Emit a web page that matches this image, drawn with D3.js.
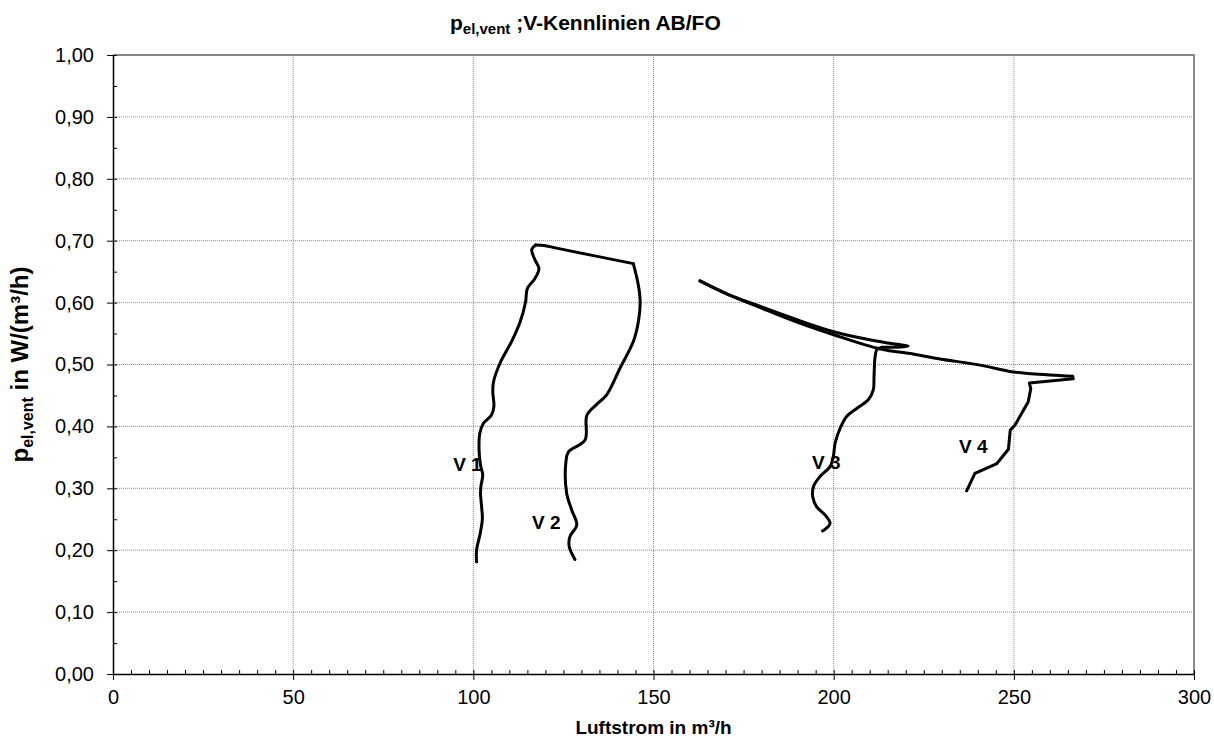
<!DOCTYPE html>
<html>
<head>
<meta charset="utf-8">
<script src="https://cdn.jsdelivr.net/npm/d3@7"></script>
<style>
  body { margin: 0; background: #fff; }
  text { font-family: "Liberation Sans", Arial, sans-serif; }
</style>
</head>
<body>
<script>
// Kennlinien: [Luftstrom m³/h, p_el,vent W/(m³/h)]
var v1 = [[100.9,0.181],[100.9,0.200],[101.9,0.227],[102.5,0.250],[102.3,0.270],[102.0,0.290],
          [102.1,0.303],[102.6,0.322],[102.0,0.337],[101.6,0.360],[101.8,0.389],[102.8,0.405],
          [105.0,0.418],[105.7,0.432],[105.4,0.456],[105.6,0.472],[107.4,0.502],[110.6,0.537],
          [113.0,0.569],[114.5,0.601],[115.0,0.623],[117.1,0.639],[118.2,0.655],[117.1,0.669],
          [116.2,0.686],[117.3,0.693]];
var top12 = [[117.3,0.693],[120.0,0.692],[123.1,0.688],[144.4,0.663]];
var v2 = [[144.4,0.663],[145.8,0.628],[146.3,0.601],[145.8,0.569],[144.4,0.537],[140.7,0.494],
          [137.0,0.451],[134.3,0.436],[131.5,0.418],[131.0,0.378],[126.4,0.359],[125.7,0.343],
          [125.9,0.292],[127.3,0.265],[128.7,0.241],[126.8,0.222],[126.6,0.206],[128.2,0.185]];
var top3 = [[162.9,0.635],[170,0.615],[180,0.593],[190,0.572],[200,0.553],[210,0.540],
            [217,0.533],[220.7,0.530],[218,0.528],[213.5,0.528]];
var v3 = [[213.5,0.528],[212.0,0.524],[211.5,0.513],[211.2,0.480],[211.0,0.459],[209.6,0.443],
          [206.4,0.429],[203.6,0.416],[201.8,0.397],[200.4,0.373],[199.9,0.351],[199.0,0.335],
          [196.2,0.319],[194.4,0.303],[194.2,0.286],[195.3,0.270],[197.6,0.257],[199.0,0.244],
          [198.6,0.239],[196.9,0.231]];
var top4 = [[162.9,0.635],[170,0.615],[180,0.591],[190,0.568],[200,0.548],[213,0.525],
            [222,0.517],[229.5,0.509],[240.6,0.499],[249.9,0.488],[260,0.483],[266.3,0.481]];
var v4 = [[266.3,0.481],[266.5,0.477],[254.3,0.470],[254.7,0.461],[254.0,0.440],[250.3,0.402],
          [249.0,0.394],[248.5,0.363],[245.3,0.340],[239.2,0.324],[236.9,0.296]];

var labels = ["V 1", "V 2", "V 3", "V 4"];
var labelPos = [[94.4,0.328],[116.3,0.234],[194.0,0.331],[234.8,0.357]];

var xTicks = [0, 50, 100, 150, 200, 250, 300];
var yTicks = [0, 0.1, 0.2, 0.3, 0.4, 0.5, 0.6, 0.7, 0.8, 0.9, 1.0];

var W = 1214, H = 746;
var mLeft = 113, mRight = 1194, mTop = 55, mBottom = 674;

var svg = d3.select("body").append("svg")
    .attr("width", W)
    .attr("height", H);

var x = d3.scaleLinear().domain([0, 300]).range([mLeft, mRight]);
var y = d3.scaleLinear().domain([0, 1]).range([mBottom, mTop]);

var de = d3.formatLocale({decimal: ",", thousands: ".", grouping: [3], currency: ["", " €"]});
var fmt = de.format(".2f");

// grid
svg.append("g")
   .selectAll("line")
   .data(yTicks.slice(1, -1))
   .enter().append("line")
   .attr("x1", mLeft).attr("x2", mRight)
   .attr("y1", function(d) { return y(d); })
   .attr("y2", function(d) { return y(d); })
   .attr("stroke", "#8c8c8c")
   .attr("stroke-width", 1)
   .attr("stroke-dasharray", "1,1");

svg.append("g")
   .selectAll("line")
   .data(xTicks.slice(1, -1))
   .enter().append("line")
   .attr("y1", mTop).attr("y2", mBottom)
   .attr("x1", function(d) { return x(d); })
   .attr("x2", function(d) { return x(d); })
   .attr("stroke", "#8c8c8c")
   .attr("stroke-width", 1)
   .attr("stroke-dasharray", "1,1");

// top and right border
svg.append("path")
   .attr("d", "M" + mLeft + "," + y(1) + "H" + x(300) + "V" + mBottom)
   .attr("fill", "none")
   .attr("stroke", "#888")
   .attr("stroke-width", 2);

// minor ticks (inside)
svg.append("g")
   .attr("transform", "translate(0," + mBottom + ")")
   .call(d3.axisBottom(x).tickValues(d3.range(0, 301, 5)).tickSize(-4).tickFormat(""))
   .call(function(g) { g.select(".domain").remove(); });

svg.append("g")
   .attr("transform", "translate(" + mLeft + ",0)")
   .call(d3.axisLeft(y).tickValues(d3.range(0, 1.001, 0.05)).tickSize(-4).tickFormat(""))
   .call(function(g) { g.select(".domain").remove(); });

// major axes
var xAxis = svg.append("g")
   .attr("transform", "translate(0," + mBottom + ")")
   .call(d3.axisBottom(x).tickValues(xTicks).tickSize(6).tickSizeOuter(0).tickPadding(10));

var yAxis = svg.append("g")
   .attr("transform", "translate(" + mLeft + ",0)")
   .call(d3.axisLeft(y).tickValues(yTicks).tickFormat(fmt).tickSize(6).tickSizeOuter(0).tickPadding(13));

[xAxis, yAxis].forEach(function(g) {
  g.attr("font-size", null).attr("font-family", null);
  g.selectAll("text")
   .style("font-size", "20px")
   .attr("fill", "#000");
  g.select(".domain").attr("stroke-width", 1.5);
});

// curves
var line = d3.line()
    .x(function(d) { return x(d[0]); })
    .y(function(d) { return y(d[1]); })
    .curve(d3.curveCatmullRom.alpha(0.5));

var straight = d3.line()
    .x(function(d) { return x(d[0]); })
    .y(function(d) { return y(d[1]); });

[v1, top12, v2, top3, v3, top4].forEach(function(s) {
  svg.append("path")
     .attr("d", line(s))
     .attr("fill", "none")
     .attr("stroke", "#000")
     .attr("stroke-width", 3)
     .attr("stroke-linejoin", "round")
     .attr("stroke-linecap", "round");
});

svg.append("path")
   .attr("d", straight(v4))
   .attr("fill", "none")
   .attr("stroke", "#000")
   .attr("stroke-width", 3)
   .attr("stroke-linejoin", "round")
   .attr("stroke-linecap", "round");

// curve labels
svg.selectAll(".lbl")
   .data(labels)
   .enter().append("text")
   .attr("class", "lbl")
   .attr("x", function(d, i) { return x(labelPos[i][0]); })
   .attr("y", function(d, i) { return y(labelPos[i][1]); })
   .attr("font-size", "19px")
   .attr("font-weight", "bold")
   .text(function(d) { return d; });

// title
var title = svg.append("text")
   .attr("x", 450)
   .attr("y", 30)
   .attr("font-size", "21px")
   .attr("font-weight", "bold");
title.append("tspan").text("p");
title.append("tspan").attr("font-size", "15px").attr("dy", 4).text("el,vent");
title.append("tspan").attr("dy", -4).text(" ;V-Kennlinien AB/FO");

// axis titles
svg.append("text")
   .attr("x", (mLeft + mRight) / 2)
   .attr("y", 734)
   .attr("text-anchor", "middle")
   .attr("font-size", "19px")
   .attr("font-weight", "bold")
   .text("Luftstrom in m³/h");

var yt = svg.append("text")
   .attr("transform", "translate(28," + ((mTop + mBottom) / 2) + ") rotate(-90)")
   .attr("text-anchor", "middle")
   .attr("font-size", "24px")
   .attr("font-weight", "bold");
yt.append("tspan").text("p");
yt.append("tspan").attr("font-size", "16px").attr("dy", 5).text("el,vent");
yt.append("tspan").attr("dy", -5).text(" in W/(m³/h)");
</script>
</body>
</html>
